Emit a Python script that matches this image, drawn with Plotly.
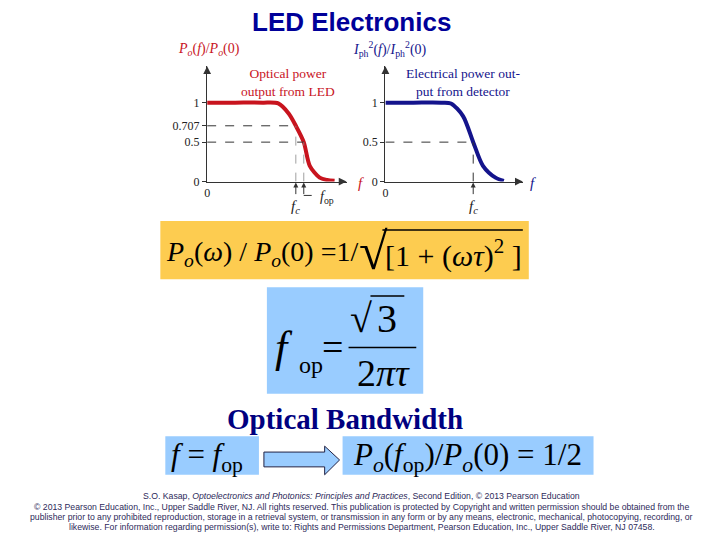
import plotly.graph_objects as go

# ---------------- data ----------------
led_f = [0, 2, 4, 5.1, 5.86, 6.36, 6.93, 7.36, 8.07, 8.6, 9.14]
led_p = [1, 1, 1, 0.99, 0.86, 0.707, 0.5, 0.2, 0.05, 0.02, 0.01]
det_f = [0, 2, 4, 4.7, 5.57, 6.3, 7.0, 7.9, 8.5]
det_p = [1, 1, 1, 0.99, 0.83, 0.5, 0.2, 0.05, 0.01]
led_fc, led_fop = 6.36, 6.93
det_fc = 6.3
led_yticks = [0, 0.5, 0.707, 1]
led_yticktext = ["0", "0.5", "0.707", "1"]
det_yticks = [0, 0.5, 1]
det_yticktext = ["0", "0.5", "1"]

W, H = 720, 540
def X(px): return px / W
def Y(py): return 1 - py / H

SERIF = "Liberation Serif, Times New Roman, serif"
SANS = "Liberation Sans, Arial, sans-serif"
RED = "#c8141e"
BLUE = "#14148c"

fig = go.Figure()

fig.add_trace(go.Scatter(x=led_f, y=led_p, mode="lines", line=dict(color=RED, width=4, shape="spline", smoothing=0.8),
                         cliponaxis=False, xaxis="x", yaxis="y", showlegend=False, hoverinfo="skip"))
fig.add_trace(go.Scatter(x=det_f, y=det_p, mode="lines", line=dict(color=BLUE, width=4, shape="spline", smoothing=0.8),
                         cliponaxis=False, xaxis="x2", yaxis="y2", showlegend=False, hoverinfo="skip"))

def dashed(xs, ys, xa, ya, color="#333333", width=1):
    fig.add_trace(go.Scatter(x=xs, y=ys, mode="lines", line=dict(color=color, width=width, dash="dash"),
                             xaxis=xa, yaxis=ya, showlegend=False, hoverinfo="skip", cliponaxis=False))

dashed([0, led_fc], [0.707, 0.707], "x", "y")
dashed([0, led_fop], [0.5, 0.5], "x", "y")
dashed([led_fc, led_fc], [0, 0.707], "x", "y", color="#888888", width=0.8)
dashed([led_fop, led_fop], [0, 0.5], "x", "y", color="#888888", width=0.8)
dashed([0, det_fc], [0.5, 0.5], "x2", "y2")
dashed([det_fc, det_fc], [0, 0.5], "x2", "y2")

axcommon = dict(showgrid=False, zeroline=False, showline=True, linecolor="#333333", linewidth=1.3,
                ticks="outside", ticklen=4, tickcolor="#333333",
                tickfont=dict(family=SERIF, size=12, color="#222222"))

fig.update_layout(
    width=W, height=H, margin=dict(l=0, r=0, t=0, b=0),
    paper_bgcolor="white", plot_bgcolor="rgba(0,0,0,0)",
    xaxis=dict(domain=[X(205), X(345)], range=[0, 10], anchor="y", tickvals=[0], ticktext=["0"], **{**axcommon, "ticks": ""}),
    yaxis=dict(domain=[Y(184), Y(67)], range=[0, 1.4625], anchor="x", tickvals=led_yticks, ticktext=led_yticktext, **axcommon),
    xaxis2=dict(domain=[X(384), X(522)], range=[0, 9.86], anchor="y2", tickvals=[0], ticktext=["0"], **{**axcommon, "ticks": ""}),
    yaxis2=dict(domain=[Y(184), Y(67)], range=[0, 1.4625], anchor="x2", tickvals=det_yticks, ticktext=det_yticktext, **axcommon),
)

ann = []
shapes = []

for xa, ya, xend in [("x", "y", 10), ("x2", "y2", 9.86)]:
    ann.append(dict(x=xend, y=0, ax=xend - 0.6, ay=0, xref=xa, yref=ya, axref=xa, ayref=ya, text="",
                    showarrow=True, arrowhead=2, arrowsize=1.2, arrowwidth=1.3, arrowcolor="#333333"))
    ann.append(dict(x=0, y=1.4625, ax=0, ay=1.35, xref=xa, yref=ya, axref=xa, ayref=ya, text="",
                    showarrow=True, arrowhead=2, arrowsize=1.2, arrowwidth=1.3, arrowcolor="#333333"))

def txt(x, y, text, size=12, color="black", family=SERIF, xanchor="center", yanchor="middle", **kw):
    ann.append(dict(x=X(x), y=Y(y), xref="paper", yref="paper", text=text, showarrow=False,
                    font=dict(family=family, size=size, color=color), xanchor=xanchor, yanchor=yanchor, **kw))

# title
txt(350, 22, "<b>LED Electronics</b>", size=26, color="#000099", family=SANS)

# left plot labels
txt(174, 50, "<i>P<sub>o</sub></i>(<i>f</i>)/<i>P<sub>o</sub></i>(0)", size=14, color=RED, xanchor="left")
txt(286, 84, "Optical power<br>output from LED", size=13.5, color=RED)
txt(354, 185, "<i>f</i>", size=15, color=RED, xanchor="left")
# right plot labels
txt(349, 50, "<i>I</i><sub>ph</sub><sup>2</sup>(<i>f</i>)/<i>I</i><sub>ph</sub><sup>2</sup>(0)", size=14, color=BLUE, xanchor="left")
txt(462, 84, "Electrical power out-<br>put from detector", size=13.5, color=BLUE)
txt(527, 185, "<i>f</i>", size=15, color=BLUE, xanchor="left")

for xa, ya, fv in [("x", "y", led_fc), ("x", "y", led_fop), ("x2", "y2", det_fc)]:
    ann.append(dict(x=fv, y=0, ax=0, ay=14, xref=xa, yref=ya, text="", showarrow=True,
                    arrowhead=2, arrowsize=1, arrowwidth=1, arrowcolor="#333333", standoff=1))
    ann.append(dict(x=fv, y=0, xref=xa, yref=ya, text="<i>f<sub>c</sub></i>" if fv != led_fop else "",
                    showarrow=False, yshift=-25, font=dict(family=SERIF, size=15, color="#222222")))
ann.append(dict(x=led_fop, y=0, xref="x", yref="y", text="<i>f</i><sub>op</sub>", showarrow=False,
                xshift=14, yshift=-16, xanchor="left", font=dict(family=SERIF, size=14, color="#222222")))
shapes.append(dict(type="line", xref="paper", yref="paper", x0=X(302), x1=X(310), y0=Y(198), y1=Y(198),
                   line=dict(color="#333333", width=1)))

# yellow formula box
shapes.append(dict(type="rect", xref="paper", yref="paper", x0=X(158), x1=X(528), y0=Y(283), y1=Y(224),
                   fillcolor="#fdcc50", line=dict(width=0), layer="below"))
txt(358, 257, "<i>P<sub>o</sub></i>(<i>ω</i>) / <i>P<sub>o</sub></i>(0) =1/", size=28, xanchor="right")
txt(372, 255, "√", size=52)
txt(382, 257, "[1 + (<i>ωτ</i>)<sup>2</sup> ]", size=30, xanchor="left")
shapes.append(dict(type="line", xref="paper", yref="paper", x0=X(381), x1=X(522), y0=Y(233), y1=Y(233),
                   line=dict(color="black", width=1.5)))

# blue formula box
shapes.append(dict(type="rect", xref="paper", yref="paper", x0=X(265), x1=X(422), y0=Y(399), y1=Y(291),
                   fillcolor="#99ccff", line=dict(width=0), layer="below"))
txt(282, 352, "<i>f</i>", size=44)
txt(309, 370, "op", size=24)
txt(331, 352, "=", size=38)
txt(359, 323, "√", size=40)
txt(386, 323, "3", size=40)
shapes.append(dict(type="line", xref="paper", yref="paper", x0=X(369), x1=X(403), y0=Y(300), y1=Y(300),
                   line=dict(color="black", width=1.5)))
shapes.append(dict(type="line", xref="paper", yref="paper", x0=X(347), x1=X(415), y0=Y(352), y1=Y(352),
                   line=dict(color="black", width=1.5)))
txt(382, 378, "2<i>πτ</i>", size=38)

# Optical Bandwidth
txt(343, 425, "<b>Optical Bandwidth</b>", size=29, color="#000080")

# bottom boxes
shapes.append(dict(type="rect", xref="paper", yref="paper", x0=X(163), x1=X(257), y0=Y(481), y1=Y(442),
                   fillcolor="#99ccff", line=dict(width=0), layer="below"))
shapes.append(dict(type="rect", xref="paper", yref="paper", x0=X(341), x1=X(593), y0=Y(481), y1=Y(442),
                   fillcolor="#99ccff", line=dict(width=0), layer="below"))
txt(167, 463, "<i>f</i> = <i>f</i><sub>op</sub>", size=31, xanchor="left")
txt(466, 463, "<i>P<sub>o</sub></i>(<i>f</i><sub>op</sub>)/<i>P<sub>o</sub></i>(0) = 1/2", size=31)
path = (f"M {X(262)} {Y(458)} L {X(323)} {Y(458)} L {X(323)} {Y(452)} L {X(338)} {Y(466)} "
        f"L {X(323)} {Y(481)} L {X(323)} {Y(473)} L {X(262)} {Y(473)} Z")
shapes.append(dict(type="path", xref="paper", yref="paper", path=path, fillcolor="#99ccff",
                   line=dict(color="#222244", width=1)))

# footer
FC = "#2d2a5a"
footer = [
    "S.O. Kasap, <i>Optoelectronics and Photonics: Principles and Practices</i>, Second Edition, © 2013 Pearson Education",
    "© 2013 Pearson Education, Inc., Upper Saddle River, NJ. All rights reserved. This publication is protected by Copyright and written permission should be obtained from the",
    "publisher prior to any prohibited reproduction, storage in a retrieval system, or transmission in any form or by any means, electronic, mechanical, photocopying, recording, or",
    "likewise. For information regarding permission(s), write to: Rights and Permissions Department, Pearson Education, Inc., Upper Saddle River, NJ 07458.",
]
for i, line in enumerate(footer):
    txt(360, 503 + i * 10.3, line, size=8.7, color=FC, family=SANS)

fig.update_layout(annotations=ann, shapes=shapes)
fig.write_html(
    "out.html",
    config={"responsive": False, "displayModeBar": False},
    post_script=(
        "document.documentElement.style.margin='0';document.documentElement.style.padding='0';"
        "document.body.style.margin='0';document.body.style.padding='0';"
    ),
)
